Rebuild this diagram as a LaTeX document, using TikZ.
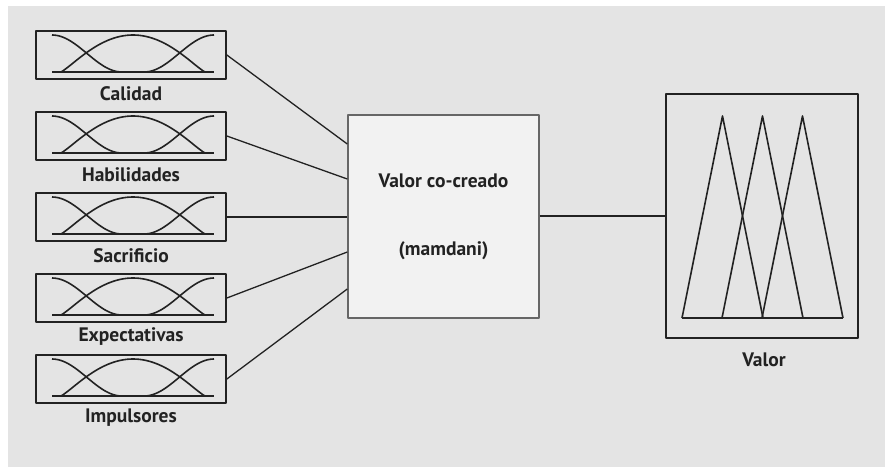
\documentclass[tikz,border=0pt]{standalone}
\usepackage{fontspec}
\setmainfont{PT Sans}
\usepackage{tikz}
\usetikzlibrary{positioning}

\definecolor{panelGray}{HTML}{E4E4E4}
\definecolor{boxFill}{HTML}{F2F2F2}
\definecolor{inkGray}{HTML}{222222}

\begin{document}
\begin{tikzpicture}[x=1pt, y=-1pt, line join=round,
            every node/.style={font=\fontsize{19.5}{23}\selectfont\bfseries, text=inkGray}]
            \tikzstyle{inputBox} = [draw=inkGray, line width=1.7, minimum width=190, minimum height=48, inner sep=0]
            \tikzstyle{ruleBox} = [draw=gray!80!black, fill=boxFill, line width=1.4, minimum width=191, minimum height=203, align=center]
            \tikzstyle{outputBox} = [draw=inkGray, line width=1.7, minimum width=192, minimum height=244, inner sep=0]
            \tikzstyle{mf} = [draw=inkGray, line width=1.6]
            \tikzstyle{link} = [draw=inkGray, line width=1.3]
            \useasboundingbox (0,0) rectangle (885,467);
            \fill[panelGray] (8,6) rectangle (885,467);

            % input variables
            \foreach \i/\name in {1/Calidad,2/Habilidades,3/Sacrificio,4/Expectativas,5/Impulsores} {
                \pgfmathsetmacro{\cy}{55+81*(\i-1)}
                \node[inputBox] (in\i) at (131,\cy) {};
                \node (lab\i) at (131,\cy+39) {\name};
                \begin{scope}[shift={(133,\cy)}]
                    \draw[mf] (-81,17) -- (81,17);
                    \draw[mf] plot[domain=-81:-11, samples=40, smooth] (\x, {17-18.5*(1+cos(180*(\x+81)/70))});
                    \draw[mf] plot[domain=-72:72, samples=60, smooth] (\x, {17-37*(1-(\x/72)^2)^1.2});
                    \draw[mf] plot[domain=11:81, samples=40, smooth] (\x, {17-18.5*(1-cos(180*(\x-11)/70))});
                \end{scope}
            }

            % inference block
            \node[ruleBox] (fis) at (443.5,216.5) {Valor co-creado\\[45pt](mamdani)};
            \foreach \i/\t in {1/144,2/179,3/217,4/252,5/289}
                \path[link] (in\i.east) edge (fis.west |- 0,\t);

            % output variable
            \node[outputBox] (out) at (762,216) {};
            \node (labOut) at (764,360) {Valor};
            \path[link] (fis.east |- out.west) edge (out.west);
            \foreach \a in {682,722,762}
                \draw[mf] (\a,318) -- (\a+40.5,116) -- (\a+81,318);
            \draw[mf] (682,318) -- (843,318);
        \end{tikzpicture}
\end{document}
